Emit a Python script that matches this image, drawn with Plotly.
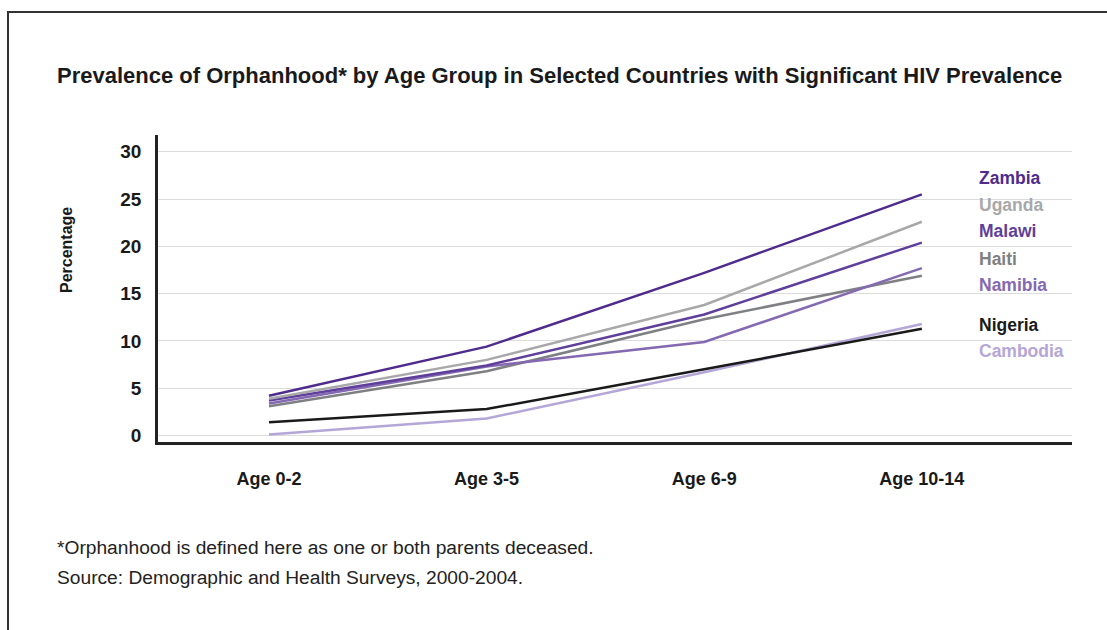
import plotly.graph_objects as go

ages = ["Age 0-2", "Age 3-5", "Age 6-9", "Age 10-14"]
countries = ["Zambia", "Uganda", "Malawi", "Haiti", "Namibia", "Nigeria", "Cambodia"]
zambia = [4.2, 9.4, 17.2, 25.5]
uganda = [3.9, 8.0, 13.8, 22.6]
malawi = [3.7, 7.4, 12.8, 20.4]
haiti = [3.1, 6.8, 12.3, 16.9]
namibia = [3.4, 7.3, 9.9, 17.7]
nigeria = [1.4, 2.8, 7.0, 11.3]
cambodia = [0.1, 1.8, 6.7, 11.8]
yticks = [0, 5, 10, 15, 20, 25, 30]

title = "Prevalence of Orphanhood* by Age Group in Selected Countries with Significant HIV Prevalence"
footnote1 = "*Orphanhood is defined here as one or both parents deceased."
footnote2 = "Source: Demographic and Health Surveys, 2000-2004."

series = {
    "Zambia": zambia, "Uganda": uganda, "Malawi": malawi, "Haiti": haiti,
    "Namibia": namibia, "Nigeria": nigeria, "Cambodia": cambodia,
}
colors = {
    "Zambia": "#4f2b8e", "Uganda": "#a8a8aa", "Malawi": "#5f3f9b", "Haiti": "#7f8083",
    "Namibia": "#8468b1", "Nigeria": "#1a1a1a", "Cambodia": "#b4a6d7",
}
draw_order = ["Cambodia", "Nigeria", "Haiti", "Namibia", "Malawi", "Uganda", "Zambia"]

W, H = 1107, 630
L, R, T, B = 158, 35, 135, 188
pw, ph = W - L - R, H - T - B

def px(x):
    return (x - L) / pw

def py(y):
    return (H - B - y) / ph

FONT = "Liberation Sans, Arial, sans-serif"

fig = go.Figure()
for c in draw_order:
    fig.add_trace(go.Scatter(
        x=ages, y=series[c], mode="lines", name=c,
        line=dict(color=colors[c], width=2.5), showlegend=False,
        hoverinfo="x+y+name",
    ))

label_y = {"Zambia": 178, "Uganda": 205, "Malawi": 231, "Haiti": 259,
           "Namibia": 285, "Nigeria": 325, "Cambodia": 351}
annotations = []
for c in countries:
    annotations.append(dict(
        x=px(977), y=py(label_y[c]), xref="paper", yref="paper",
        text="<b>%s</b>" % c, showarrow=False, xanchor="left", yanchor="middle",
        font=dict(family=FONT, size=17.5, color=colors[c]),
    ))
annotations.append(dict(
    x=px(66), y=py(250), xref="paper", yref="paper", text="<b>Percentage</b>",
    textangle=-90, showarrow=False, xanchor="center", yanchor="middle",
    font=dict(family=FONT, size=16, color="#1a1a1a"),
))
annotations.append(dict(
    x=px(55), y=py(547), xref="paper", yref="paper", text=footnote1,
    showarrow=False, xanchor="left", yanchor="middle",
    font=dict(family=FONT, size=19.2, color="#222222"),
))
annotations.append(dict(
    x=px(55), y=py(577), xref="paper", yref="paper", text=footnote2,
    showarrow=False, xanchor="left", yanchor="middle",
    font=dict(family=FONT, size=19.2, color="#222222"),
))

shapes = [
    dict(type="line", xref="paper", yref="paper", x0=px(8), y0=py(632), x1=px(8), y1=py(12),
         line=dict(color="#333333", width=2)),
    dict(type="line", xref="paper", yref="paper", x0=px(7), y0=py(12), x1=px(1110), y1=py(12),
         line=dict(color="#333333", width=2)),
]

fig.update_layout(
    width=W, height=H,
    margin=dict(l=L, r=R, t=T, b=B),
    paper_bgcolor="white", plot_bgcolor="white",
    title=dict(text="<b>%s</b>" % title, x=57 / W, xanchor="left", xref="container",
               y=1 - 75 / H, yanchor="middle", yref="container",
               font=dict(family=FONT, size=22, color="#1a1a1a")),
    xaxis=dict(type="category", range=[-0.51, 3.69], showgrid=False,
               showline=True, linecolor="#222222", linewidth=3,
               ticks="", ticklabelstandoff=18,
               tickfont=dict(family=FONT, size=18, color="#1a1a1a"),
               tickprefix="<b>", ticksuffix="</b>", zeroline=False, fixedrange=True),
    yaxis=dict(range=[-0.68, 31.77], tickvals=yticks,
               ticktext=["<b>%d</b>" % v for v in yticks],
               showgrid=True, gridcolor="#dcdcdc", gridwidth=1,
               showline=True, linecolor="#222222", linewidth=2.5,
               ticks="", ticklabelstandoff=10, zeroline=False,
               tickfont=dict(family=FONT, size=19, color="#1a1a1a"), fixedrange=True),
    annotations=annotations, shapes=shapes,
)

fig.write_html("out.html")
